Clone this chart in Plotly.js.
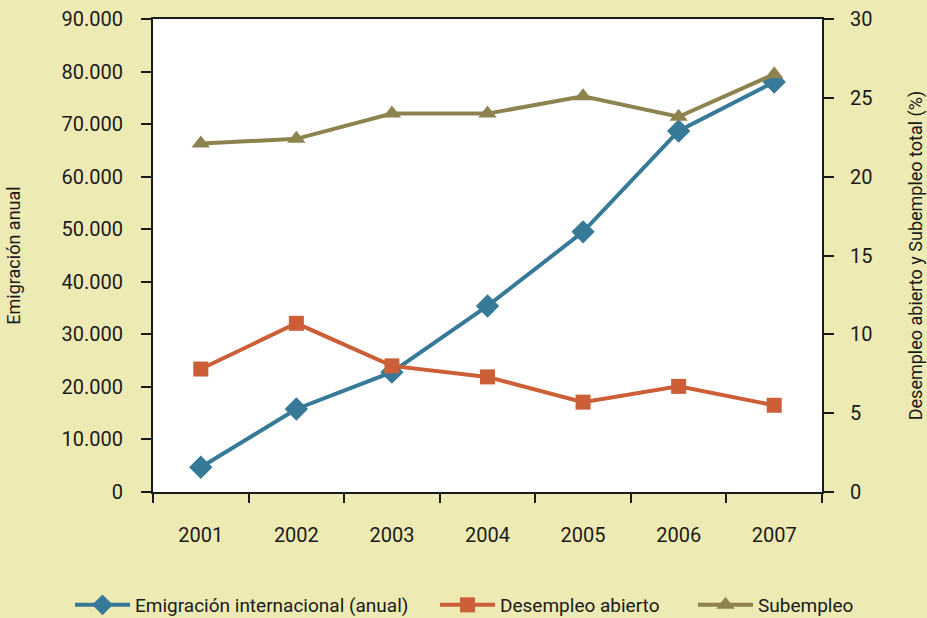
<!DOCTYPE html>
<html><head><meta charset="utf-8">
<script src="https://cdn.plot.ly/plotly-3.0.1.min.js"></script>
<style>body{margin:0;background:#eeeab4;}#c{width:927px;height:618px;}</style>
</head><body><div id="c"></div>
<script>
const years = ['2001','2002','2003','2004','2005','2006','2007'];
const emigracion = [4700, 15800, 22800, 35400, 49500, 68700, 78000];
const desempleo = [7.8, 10.7, 8.0, 7.3, 5.7, 6.7, 5.5];
const subempleo = [22.1, 22.4, 24.0, 24.0, 25.1, 23.8, 26.5];
const leftTicks = [0,10000,20000,30000,40000,50000,60000,70000,80000,90000];
const leftLabels = ['0','10.000','20.000','30.000','40.000','50.000','60.000','70.000','80.000','90.000'];
const seriesNames = ['Emigración internacional (anual)', 'Desempleo abierto', 'Subempleo'];

const F = 'Roboto, "Liberation Sans", Arial, sans-serif';
const traces = [
  {x: years, y: emigracion, name: seriesNames[0], type:'scatter', mode:'lines+markers', legend:'legend',
   line:{color:'#367a98', width:4}, marker:{symbol:'diamond', size:18, color:'#367a98'}},
  {x: years, y: desempleo, name: seriesNames[1], type:'scatter', mode:'lines+markers', yaxis:'y2', legend:'legend2',
   line:{color:'#cc5f38', width:4}, marker:{symbol:'square', size:15, color:'#cc5f38'}},
  {x: years, y: subempleo, name: seriesNames[2], type:'scatter', mode:'lines+markers', yaxis:'y2', legend:'legend3',
   line:{color:'#8c834f', width:4}, marker:{symbol:'triangle-up', size:16, color:'#8c834f'}}
];
function leg(x){
  return {orientation:'h', x:x, xref:'container', xanchor:'left', y:13/618, yref:'container', yanchor:'middle',
    font:{size:19, color:'#1a1a1a'}, bgcolor:'rgba(0,0,0,0)', itemwidth:55};
}
const layout = {
  width: 927, height: 618,
  paper_bgcolor:'#eeeab4', plot_bgcolor:'#ffffff',
  margin:{l:153, r:105, t:19, b:126},
  font:{family:F, size:20, color:'#1a1a1a'},
  showlegend:true,
  legend: leg(70/927), legend2: leg(435/927), legend3: leg(693/927),
  xaxis:{type:'category', range:[-0.5,6.5], tickson:'boundaries', ticks:'outside', ticklen:9, tickwidth:2, tickcolor:'#1a1a1a',
    showline:true, linecolor:'#1a1a1a', linewidth:2, mirror:true, showgrid:false, ticklabelstandoff:24, tickfont:{size:20}},
  yaxis:{range:[0,90000], tickvals:leftTicks, ticktext:leftLabels, ticks:'outside', ticklen:10, tickwidth:2, tickcolor:'#1a1a1a',
    showline:true, linecolor:'#1a1a1a', linewidth:2, showgrid:false, zeroline:false, tickfont:{size:20}, ticklabelstandoff:14,
    title:{text:'Emigración anual', font:{size:18}, standoff:36}},
  yaxis2:{range:[0,30], overlaying:'y', side:'right', dtick:5, ticks:'outside', ticklen:10, tickwidth:2, tickcolor:'#1a1a1a',
    showline:true, linecolor:'#1a1a1a', linewidth:2, showgrid:false, zeroline:false, tickfont:{size:20}, ticklabelstandoff:12,
    title:{text:'Desempleo abierto y Subempleo total (%)', font:{size:18}, standoff:46}}
};
Plotly.newPlot('c', traces, layout, {displayModeBar:false});
</script></body></html>
